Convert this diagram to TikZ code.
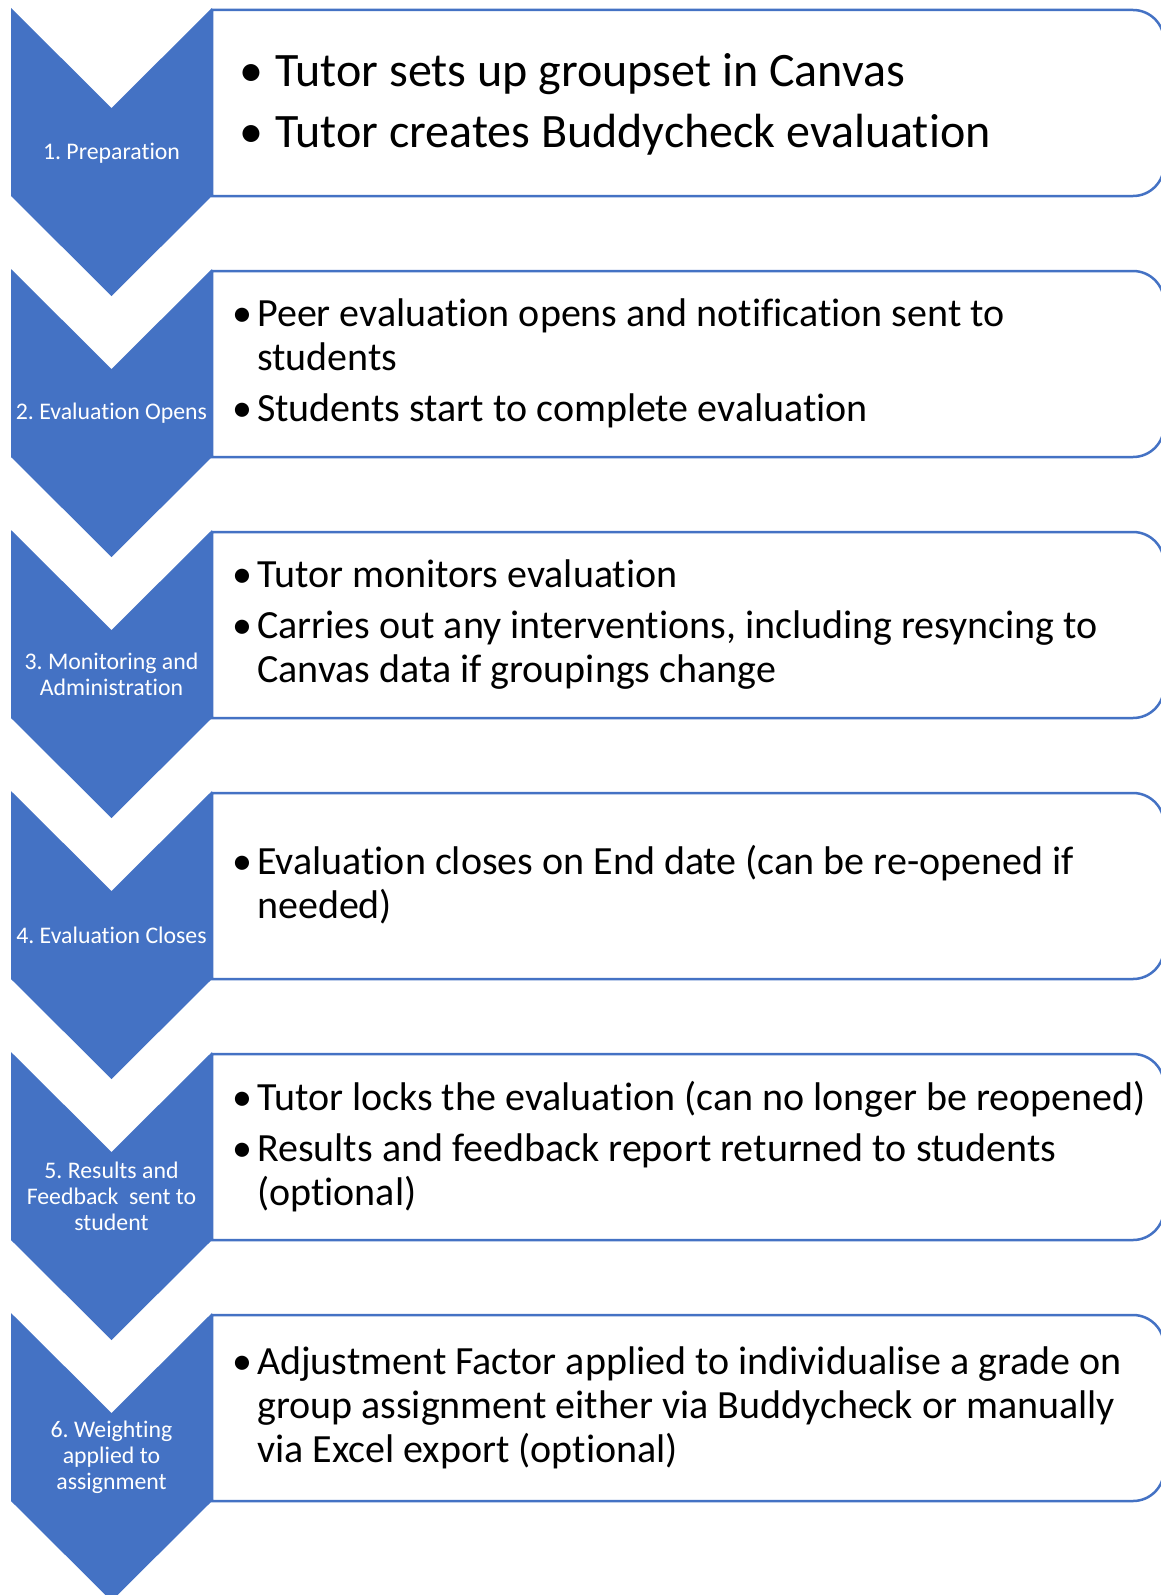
\documentclass[tikz,border=0pt]{standalone}
\usepackage{fontspec}
\setmainfont{Carlito}[Ligatures={NoCommon}]
\frenchspacing
\definecolor{accent}{HTML}{4472C4}
\tikzset{
  chev/.style={fill=accent},
  stepbox/.style={draw=accent, line width=2.5pt, fill=white},
  lbl/.style={text=white, font=\fontsize{23.8}{26}\selectfont, align=center, inner sep=0pt},
  itm/.style={anchor=base west, inner sep=0pt, font=\fontsize{40}{44}\selectfont},
  itmbig/.style={anchor=base west, inner sep=0pt, font=\fontsize{48}{52}\selectfont},
}
\newcommand{\bul}{\llap{•\hspace{5pt}}}
\newcommand{\bulbig}{\llap{•\hspace{12pt}}}
\begin{document}
\begin{tikzpicture}[x=1pt,y=-1pt]
\useasboundingbox (0,0) rectangle (1161,1595);
\clip (0,0) rectangle (1161,1595);
\foreach \k in {0,...,5} {
  \pgfmathsetmacro\t{261*\k}
  \fill[chev] (11,\t+8) -- (111.5,\t+108) -- (212,\t+8) -- (212,\t+196) -- (111.5,\t+296) -- (11,\t+196) -- cycle;
  \draw[stepbox] (212,\t+10) -- (1133,\t+10) arc[start angle=-90, end angle=0, radius=31]
     -- (1164,\t+165) arc[start angle=0, end angle=90, radius=31] -- (212,\t+196) -- cycle;
}
% chevron labels
\node[lbl] (l1) at (111.5,153) {1. Preparation};
\node[lbl] (l2) at (111.5,413) {2. Evaluation Opens};
\node[lbl] (l3) at (111.5,674) {3. Monitoring and\\Administration};
\node[lbl] (l4) at (111.5,935) {4. Evaluation Closes};
\node[lbl] (l5) at (111.5,1196) {5. Results and\\Feedback\ \ sent to\\student};
\node[lbl] (l6) at (111.5,1457) {6. Weighting\\applied to\\assignment};
% box texts
\node[itmbig] (t1) at (275,86) {\begin{tabular}[t]{@{}l@{}}\bulbig Tutor sets up groupset in Canvas\\[9pt]\bulbig Tutor creates Buddycheck evaluation\end{tabular}};
\node[itm] (t2) at (257,326) {\begin{tabular}[t]{@{}l@{}}\bul Peer evaluation opens and notification sent to\\students\\[7pt]\bul Students start to complete evaluation\end{tabular}};
\node[itm] (t3) at (257,587) {\begin{tabular}[t]{@{}l@{}}\bul Tutor monitors evaluation\\[7pt]\bul Carries out any interventions, including resyncing to\\Canvas data if groupings change\end{tabular}};
\node[itm] (t4) at (257,874) {\begin{tabular}[t]{@{}l@{}}\bul Evaluation closes on End date (can be re-opened if\\needed)\end{tabular}};
\node[itm] (t5) at (257,1110) {\begin{tabular}[t]{@{}l@{}}\bul Tutor locks the evaluation (can no longer be reopened)\\[7pt]\bul Results and feedback report returned to students\\(optional)\end{tabular}};
\node[itm] (t6) at (257,1374) {\begin{tabular}[t]{@{}l@{}}\bul Adjustment Factor applied to individualise a grade on\\group assignment either via Buddycheck or manually\\via Excel export (optional)\end{tabular}};
\end{tikzpicture}
\end{document}
